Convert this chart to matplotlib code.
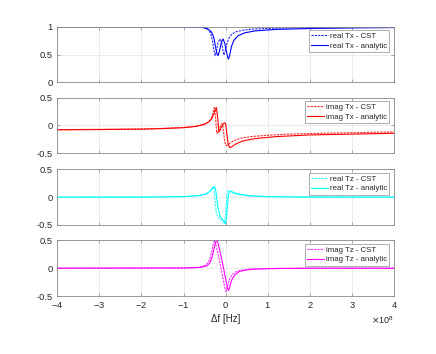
import matplotlib

matplotlib.use("Agg")

import matplotlib.pyplot as plt
from matplotlib.ticker import ScalarFormatter
import numpy as np

# frequency offsets are in units of 1e8 Hz
HZ_SCALE = 1e8

# real Tx
RE_TX_CST_F = [-4, -2, -1, -0.6, -0.5, -0.42, -0.36, -0.31, -0.28, -0.25, -0.22, -0.18, -0.13,
               -0.09, -0.06, -0.04, -0.01, 0.03, 0.08, 0.15, 0.25, 0.4, 0.6, 1.0, 1.5, 2, 3, 4]
RE_TX_CST = [1.0, 1.0, 0.998, 0.99, 0.98, 0.95, 0.89, 0.74, 0.58, 0.48, 0.55, 0.72, 0.78,
             0.70, 0.56, 0.49, 0.56, 0.70, 0.80, 0.87, 0.91, 0.935, 0.955, 0.97, 0.978, 0.984, 0.99, 0.992]
RE_TX_AN_F = [-4, -2, -1, -0.6, -0.5, -0.4, -0.33, -0.28, -0.23, -0.2, -0.18, -0.15, -0.1,
              -0.06, -0.02, 0.02, 0.05, 0.07, 0.1, 0.14, 0.2, 0.3, 0.45, 0.7, 1.2, 2, 3, 4]
RE_TX_AN = [1.0, 1.0, 0.998, 0.99, 0.98, 0.95, 0.90, 0.80, 0.60, 0.50, 0.48, 0.55, 0.72,
            0.78, 0.70, 0.55, 0.45, 0.42, 0.50, 0.65, 0.76, 0.84, 0.89, 0.925, 0.952, 0.968, 0.978, 0.985]

# imag Tx
IM_TX_CST_F = [-4, -3, -2, -1.5, -1, -0.7, -0.5, -0.4, -0.35, -0.31, -0.29, -0.27, -0.25, -0.23,
               -0.21, -0.17, -0.13, -0.1, -0.07, -0.05, -0.02, 0.01, 0.05, 0.1, 0.2, 0.35, 0.6,
               1, 1.5, 2, 3, 4]
IM_TX_CST = [-0.075, -0.07, -0.062, -0.052, -0.035, -0.012, 0.025, 0.07, 0.12, 0.19, 0.26, 0.32,
             0.25, 0.05, -0.14, -0.1, -0.02, 0.03, 0.02, -0.1, -0.3, -0.36, -0.35, -0.32, -0.27,
             -0.23, -0.2, -0.175, -0.155, -0.145, -0.13, -0.115]
IM_TX_AN_F = [-4, -3, -2, -1.5, -1, -0.7, -0.5, -0.4, -0.33, -0.28, -0.24, -0.22, -0.19, -0.16,
              -0.13, -0.08, -0.03, 0.0, 0.03, 0.06, 0.1, 0.15, 0.25, 0.4, 0.7, 1.2, 2, 3, 4]
IM_TX_AN = [-0.078, -0.073, -0.066, -0.056, -0.04, -0.016, 0.02, 0.065, 0.12, 0.21, 0.29, 0.32,
            0.15, -0.12, -0.08, 0.0, 0.05, 0.03, -0.15, -0.34, -0.40, -0.38, -0.33, -0.28,
            -0.235, -0.2, -0.17, -0.155, -0.14]

# real Tz
RE_TZ_CST_F = [-4, -2, -1, -0.7, -0.5, -0.4, -0.35, -0.31, -0.28, -0.25, -0.22, -0.18, -0.12,
               -0.06, -0.03, 0.0, 0.03, 0.06, 0.1, 0.2, 0.35, 0.6, 1, 2, 4]
RE_TZ_CST = [0.0, 0.002, 0.01, 0.025, 0.05, 0.09, 0.14, 0.18, 0.17, -0.05, -0.3, -0.36, -0.4,
             -0.45, -0.47, -0.3, 0.05, 0.12, 0.1, 0.07, 0.04, 0.02, 0.008, 0.002, 0.0]
RE_TZ_AN_F = [-4, -2, -1, -0.6, -0.45, -0.35, -0.29, -0.26, -0.23, -0.18, -0.13, -0.05, 0.0,
              0.03, 0.06, 0.09, 0.12, 0.2, 0.35, 0.6, 1, 2, 4]
RE_TZ_AN = [0.0, 0.002, 0.01, 0.03, 0.06, 0.12, 0.18, 0.19, 0.1, -0.2, -0.35, -0.42, -0.48,
            -0.3, 0.0, 0.1, 0.11, 0.08, 0.05, 0.025, 0.01, 0.003, 0.0]

# imag Tz
IM_TZ_CST_F = [-4, -1, -0.7, -0.55, -0.45, -0.38, -0.33, -0.29, -0.26, -0.23, -0.15, -0.07,
               -0.02, 0.01, 0.04, 0.08, 0.15, 0.25, 0.4, 0.6, 1, 2, 4]
IM_TZ_CST = [0.0, 0.005, 0.01, 0.03, 0.07, 0.15, 0.3, 0.45, 0.5, 0.42, 0.15, -0.15,
             -0.35, -0.42, -0.35, -0.22, -0.12, -0.06, -0.03, -0.015, -0.005, 0.0, 0.0]
IM_TZ_AN_F = [-4, -1, -0.6, -0.45, -0.38, -0.32, -0.27, -0.23, -0.2, -0.17, -0.09, -0.01,
              0.04, 0.07, 0.1, 0.14, 0.22, 0.32, 0.5, 0.7, 1.2, 2, 4]
IM_TZ_AN = [0.0, 0.005, 0.015, 0.04, 0.09, 0.2, 0.37, 0.48, 0.5, 0.42, 0.15, -0.15,
            -0.35, -0.40, -0.33, -0.22, -0.12, -0.06, -0.03, -0.015, -0.005, 0.0, 0.0]

PANELS = [
    ("real Tx", "#0000FF", RE_TX_CST_F, RE_TX_CST, RE_TX_AN_F, RE_TX_AN, (0, 1), [0, 0.5, 1]),
    ("imag Tx", "#FF0000", IM_TX_CST_F, IM_TX_CST, IM_TX_AN_F, IM_TX_AN, (-0.5, 0.5), [-0.5, 0, 0.5]),
    ("real Tz", "#00FFFF", RE_TZ_CST_F, RE_TZ_CST, RE_TZ_AN_F, RE_TZ_AN, (-0.5, 0.5), [-0.5, 0, 0.5]),
    ("imag Tz", "#FF00FF", IM_TZ_CST_F, IM_TZ_CST, IM_TZ_AN_F, IM_TZ_AN, (-0.5, 0.5), [-0.5, 0, 0.5]),
]
X_TICKS = [-4, -3, -2, -1, 0, 1, 2, 3, 4]

AX_LEFT = 0.131
AX_WIDTH = 0.773
AX_HEIGHT = 0.157
AX_BOTTOMS = [0.7675, 0.567, 0.3645, 0.1638]

TEXT_COLOR = "#262626"
SPINE_COLOR = "#8a8a8a"
GRID_COLOR = "#e4e4e4"

plt.rcParams.update({
    "font.family": ["Liberation Sans", "DejaVu Sans"],
    "font.size": 6.7,
    "axes.unicode_minus": False,
})

fig = plt.figure(figsize=(4.36, 3.54), dpi=100)

for idx, (name, color, f_cst, y_cst, f_an, y_an, ylim, yticks) in enumerate(PANELS):
    ax = fig.add_axes([AX_LEFT, AX_BOTTOMS[idx], AX_WIDTH, AX_HEIGHT])
    ax.plot(np.asarray(f_cst) * HZ_SCALE, y_cst, color=color, linewidth=0.8,
            linestyle=(0, (2.0, 1.0)), alpha=0.85, label=f"{name} - CST")
    ax.plot(np.asarray(f_an) * HZ_SCALE, y_an, color=color, linewidth=0.8,
            label=f"{name} - analytic")

    ax.set_xlim(-4 * HZ_SCALE, 4 * HZ_SCALE)
    ax.set_xticks(np.asarray(X_TICKS) * HZ_SCALE)
    ax.set_ylim(*ylim)
    ax.set_yticks(yticks)
    ax.set_yticklabels([f"{t:g}" for t in yticks])
    fmt = ScalarFormatter(useMathText=True)
    fmt.set_powerlimits((0, 0))
    ax.xaxis.set_major_formatter(fmt)

    ax.grid(True, color=GRID_COLOR, linewidth=0.5)
    ax.set_axisbelow(True)
    ax.tick_params(direction="in", length=2.5, width=0.5, colors=SPINE_COLOR,
                   labelcolor=TEXT_COLOR, labelsize=6.7, top=True, right=True, pad=3)
    for spine in ax.spines.values():
        spine.set_color(SPINE_COLOR)
        spine.set_linewidth(0.6)

    if idx < len(PANELS) - 1:
        ax.tick_params(labelbottom=False)
        ax.xaxis.offsetText.set_visible(False)
    else:
        ax.set_xlabel("\u0394f [Hz]", fontsize=7, color=TEXT_COLOR, labelpad=3)
        ax.xaxis.offsetText.set_fontsize(6.5)
        ax.xaxis.offsetText.set_color(TEXT_COLOR)

    leg = ax.legend(loc="upper right", bbox_to_anchor=(0.985, 0.94), fontsize=5.6,
                    frameon=True, fancybox=False, framealpha=1.0, edgecolor="#a0a0a0",
                    borderaxespad=0.0, handlelength=2.2, handletextpad=0.2,
                    borderpad=0.3, labelspacing=0.3)
    leg.get_frame().set_linewidth(0.6)
    for text in leg.get_texts():
        text.set_color(TEXT_COLOR)

fig.savefig("out.png", dpi=100)
